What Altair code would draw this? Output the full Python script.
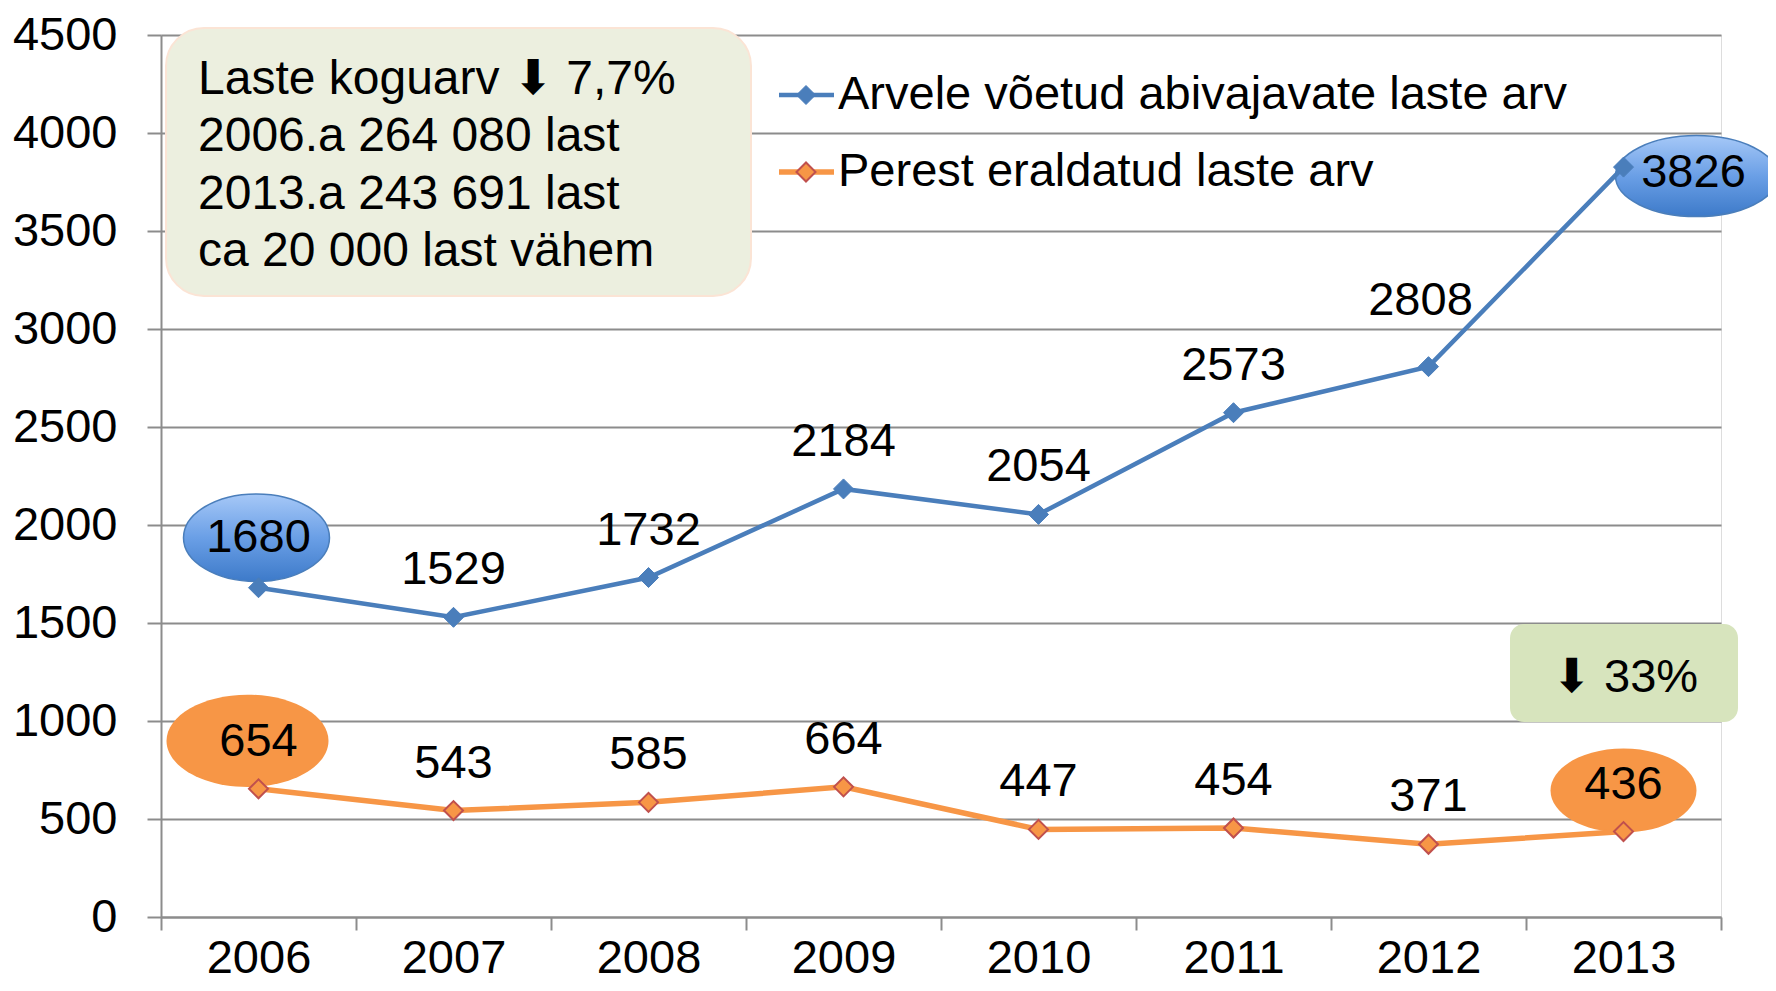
import altair as alt
import pandas as pd

# ---------------- data ----------------
years = ["2006", "2007", "2008", "2009", "2010", "2011", "2012", "2013"]
arvele = [1680, 1529, 1732, 2184, 2054, 2573, 2808, 3826]
perest = [654, 543, 585, 664, 447, 454, 371, 436]
series_names = ["Arvele võetud abivajavate laste arv", "Perest eraldatud laste arv"]
y_ticks = [0, 500, 1000, 1500, 2000, 2500, 3000, 3500, 4000, 4500]
info_lines = ["Laste koguarv \u2B07 7,7%", "2006.a 264 080 last", "2013.a 243 691 last", "ca 20 000 last vähem"]
badge_text = "\u2B07 33%"

df = pd.DataFrame({
    "year": years * 2,
    "value": arvele + perest,
    "series": [series_names[0]] * len(years) + [series_names[1]] * len(years),
})

# ---------------- style ----------------
BLUE = "#4a7ebb"
ORANGE = "#f79646"
RED = "#c0504d"
GRID = "#8c8c8c"
FONT = "Liberation Sans"
FS = 47
W, H = 1560, 882


def ellipse_path(ratio):
    k = 0.5523
    r = ratio
    return (f"M -1 0 C -1 {-k*r:.4f} {-k:.4f} {-r:.4f} 0 {-r:.4f} "
            f"C {k:.4f} {-r:.4f} 1 {-k*r:.4f} 1 0 "
            f"C 1 {k*r:.4f} {k:.4f} {r:.4f} 0 {r:.4f} "
            f"C {-k:.4f} {r:.4f} -1 {k*r:.4f} -1 0 Z")


blue_grad = alt.Gradient(
    gradient="linear", x1=0, y1=0, x2=0, y2=1,
    stops=[alt.GradientStop(color="#a6c8f7", offset=0),
           alt.GradientStop(color="#6a9fe6", offset=0.5),
           alt.GradientStop(color="#3d7ac9", offset=1)],
)

x_enc = alt.X(
    "year:N", sort=years, bandPosition=0.5,
    scale=alt.Scale(type="band", domain=years, paddingInner=0, paddingOuter=0),
    axis=alt.Axis(title=None, labelAngle=0, tickBand="extent", grid=False,
                  labelFont=FONT, labelFontSize=FS, labelColor="black",
                  labelBaseline="alphabetic", labelPadding=42,
                  tickSize=13, tickColor=GRID, tickWidth=2,
                  domainColor=GRID, domainWidth=2),
)
y_enc = alt.Y(
    "value:Q",
    scale=alt.Scale(domain=[0, 4500], nice=False, zero=True),
    axis=alt.Axis(title=None, values=y_ticks, format="d", grid=True, gridColor=GRID, gridWidth=2,
                  labelFont=FONT, labelFontSize=FS, labelColor="black",
                  labelPadding=30, tickSize=14, tickColor=GRID, tickWidth=2,
                  domainColor=GRID, domainWidth=2),
)

base = alt.Chart(df)

is_blue = alt.datum.series == series_names[0]
is_orange = alt.datum.series == series_names[1]
first_year = alt.datum.year == years[0]
last_year = alt.datum.year == years[-1]
year_2012 = alt.datum.year == years[-2]


def ellipse_layer(cond, fill, width, ratio, xo, yo, stroke=None):
    kw = dict(shape=ellipse_path(ratio), size=width * width, filled=True,
              fill=fill, opacity=1, fillOpacity=1, xOffset=xo, yOffset=yo)
    if stroke:
        kw.update(stroke=stroke, strokeWidth=1.5)
    else:
        kw.update(strokeWidth=0)
    return base.transform_filter(cond).mark_point(**kw).encode(x=x_enc, y=y_enc)


ell1 = ellipse_layer(is_blue & first_year, blue_grad, 146, 0.6, -2, -50, BLUE)
ell2 = ellipse_layer(is_blue & last_year, blue_grad, 162, 0.5, 73, 9, BLUE)
ell3 = ellipse_layer(is_orange & first_year, ORANGE, 162, 0.57, -11, -48)
ell4 = ellipse_layer(is_orange & last_year, ORANGE, 146, 0.575, 0, -41)

line_blue = base.transform_filter(is_blue).mark_line(color=BLUE, strokeWidth=4.5).encode(
    x=x_enc, y=y_enc, order="year:N")
line_orange = base.transform_filter(is_orange).mark_line(color=ORANGE, strokeWidth=5.5).encode(
    x=x_enc, y=y_enc, order="year:N")

pts_blue = base.transform_filter(is_blue).mark_point(
    shape="diamond", size=400, filled=True, fill=BLUE, stroke=BLUE, strokeWidth=1, opacity=1
).encode(x=x_enc, y=y_enc)
pts_orange = base.transform_filter(is_orange).mark_point(
    shape="diamond", size=361, filled=True, fill=ORANGE, stroke=RED, strokeWidth=2, opacity=1
).encode(x=x_enc, y=y_enc)

text_kw = dict(font=FONT, fontSize=FS, color="black", baseline="middle")
labels = base.transform_filter(
    ~(is_blue & (first_year | last_year | year_2012))
).mark_text(dy=-47, **text_kw).encode(x=x_enc, y=y_enc, text="value:Q")
label_first = base.transform_filter(is_blue & first_year).mark_text(dy=-50, **text_kw).encode(
    x=x_enc, y=y_enc, text="value:Q")
label_2012 = base.transform_filter(is_blue & year_2012).mark_text(dx=-8, dy=-66, **text_kw).encode(
    x=x_enc, y=y_enc, text="value:Q")
label_last = base.transform_filter(is_blue & last_year).mark_text(dx=70, dy=6, **text_kw).encode(
    x=x_enc, y=y_enc, text="value:Q")

# ---------------- annotations ----------------
one = alt.Chart(pd.DataFrame({"k": [0]}))

info_box = one.mark_rect(fill="#ecefdf", stroke="#fbe4d5", strokeWidth=2, cornerRadius=38).encode(
    x=alt.value(5), x2=alt.value(590), y=alt.value(-7), y2=alt.value(261))
info_text = one.mark_text(font=FONT, fontSize=48, color="black", align="left",
                          baseline="alphabetic", lineHeight=57.3).encode(
    x=alt.value(37), y=alt.value(59), text=alt.value(info_lines))

badge_box = one.mark_rect(fill="#d7e4bd", cornerRadius=14).encode(
    x=alt.value(1349), x2=alt.value(1577), y=alt.value(589), y2=alt.value(687))
badge = one.mark_text(font=FONT, fontSize=FS, color="black", align="center",
                      baseline="alphabetic").encode(
    x=alt.value(1464), y=alt.value(657), text=alt.value(badge_text))

legend_layers = []
for name, col, ypos, stroke, sw, lw in [
    (series_names[0], BLUE, 60, BLUE, 1, 4.5),
    (series_names[1], ORANGE, 137, RED, 2, 5.5),
]:
    legend_layers.append(one.mark_rule(color=col, strokeWidth=lw).encode(
        x=alt.value(618), x2=alt.value(673), y=alt.value(ypos)))
    legend_layers.append(one.mark_point(shape="diamond", size=361, filled=True, fill=col,
                                        stroke=stroke, strokeWidth=sw, opacity=1).encode(
        x=alt.value(645), y=alt.value(ypos)))
    legend_layers.append(one.mark_text(font=FONT, fontSize=FS, color="black", align="left",
                                       baseline="middle").encode(
        x=alt.value(677), y=alt.value(ypos), text=alt.value(name)))

chart = alt.layer(
    ell1, ell2, ell3, ell4,
    line_blue, line_orange, pts_blue, pts_orange,
    labels, label_first, label_2012, label_last,
    info_box, info_text, badge_box, badge,
    *legend_layers,
).properties(
    width=W, height=H,
    autosize=alt.AutoSizeParams(type="none"),
    padding={"left": 153, "top": 27, "right": 47, "bottom": 65},
).configure_view(stroke=None).configure(background="white")

chart.save("out.html", embed_options={"renderer": "svg", "actions": False})
